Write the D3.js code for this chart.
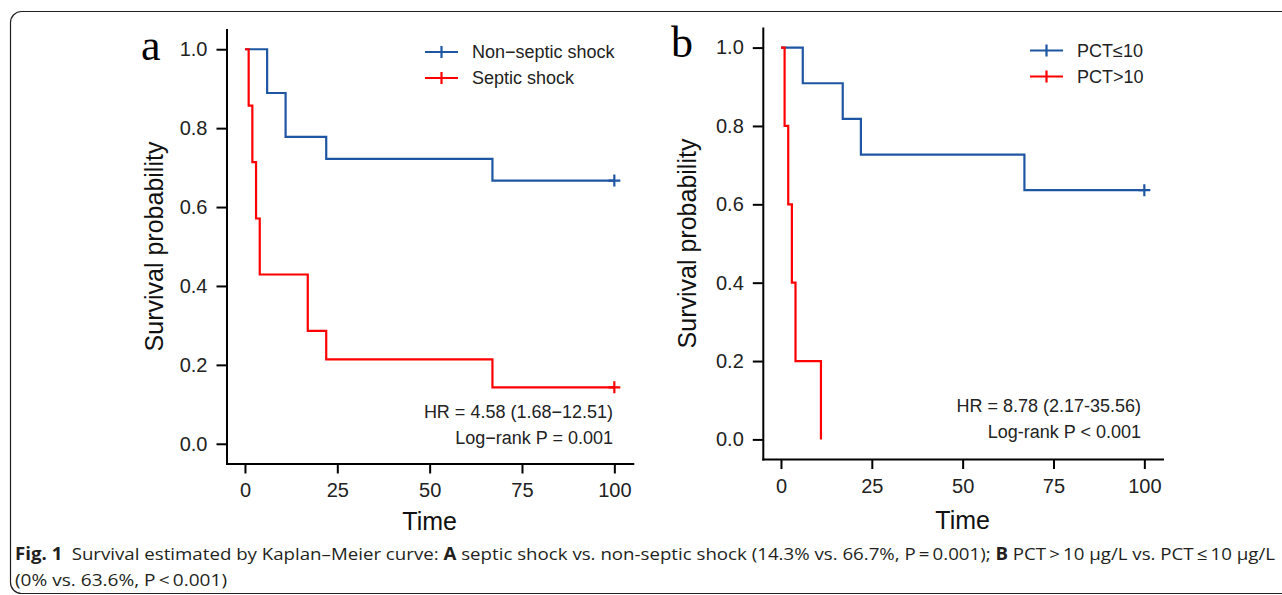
<!DOCTYPE html>
<html>
<head>
<meta charset="utf-8">
<script src="https://cdn.jsdelivr.net/npm/d3@7"></script>
<style>
  body { margin: 0; background: #fff; }
  svg { display: block; }
  .tick text { font-family: "Liberation Sans", Arial, sans-serif; font-size: 20px; fill: #222; }
  .tick line, .domain { stroke: #000; stroke-width: 2px; }
</style>
</head>
<body>
<div id="chart"></div>
<script>
// data
var timeTicks = [0, 25, 50, 75, 100];
var probTicks = [0, 0.2, 0.4, 0.6, 0.8, 1.0];

// panel a
var nonSepticTime = [0, 6, 11, 22, 67, 100];
var nonSepticSurv = [1, 0.889, 0.778, 0.722, 0.667, 0.667];
var septicTime = [0, 1, 2, 3, 4, 17, 22, 67, 100];
var septicSurv = [1, 0.857, 0.714, 0.571, 0.429, 0.286, 0.214, 0.143, 0.143];

// panel b
var pctLowTime = [0, 6, 17, 22, 67, 100];
var pctLowSurv = [1, 0.909, 0.818, 0.727, 0.636, 0.636];
var pctHighTime = [0, 1, 2, 3, 4, 11];
var pctHighSurv = [1, 0.8, 0.6, 0.4, 0.2, 0];

var svgWidth = 1282;
var svgHeight = 595;
var blue = "#1f56a3";
var red = "#ff0000";
var sans = "'Liberation Sans', Arial, sans-serif";

var svg = d3.select("#chart")
  .append("svg")
  .attr("width", svgWidth)
  .attr("height", svgHeight);

// figure frame (runs off the right and bottom edges)
svg.append("rect")
  .attr("x", 10.5)
  .attr("y", 11.5)
  .attr("width", 1320)
  .attr("height", 582)
  .attr("rx", 11)
  .attr("fill", "none")
  .attr("stroke", "#231f20")
  .attr("stroke-width", 1.2);

function drawPanel(p) {
  var x = d3.scaleLinear().domain([-5, 105]).range([p.left, p.right]);
  var y = d3.scaleLinear().domain([-0.05, 1.05]).range([p.bottom, p.top]);

  var g = svg.append("g");

  g.append("g")
    .attr("transform", `translate(0, ${p.bottom})`)
    .call(d3.axisBottom(x).tickValues(timeTicks).tickSize(10).tickSizeOuter(0).tickPadding(9))
    .call(a => a.selectAll("text").attr("dy", "0.74em"));

  g.append("g")
    .attr("transform", `translate(${p.left}, 0)`)
    .call(d3.axisLeft(y).tickValues(probTicks).tickFormat(d3.format(".1f"))
      .tickSize(10).tickSizeOuter(0).tickPadding(9));

  g.selectAll(".domain").attr("stroke-linecap", "square");

  // axis titles
  g.append("text")
    .attr("x", x(50))
    .attr("y", p.timeY)
    .attr("text-anchor", "middle")
    .attr("font-family", sans)
    .attr("font-size", 25)
    .attr("fill", "#111")
    .text("Time");

  g.append("text")
    .attr("transform", `translate(${p.left - p.yTitleOff}, ${y(0.5)}) rotate(-90)`)
    .attr("text-anchor", "middle")
    .attr("font-family", sans)
    .attr("font-size", 25)
    .attr("fill", "#111")
    .text("Survival probability");

  // panel letter
  g.append("text")
    .attr("x", p.letterX)
    .attr("y", p.letterY)
    .attr("font-family", "'Liberation Serif', 'Times New Roman', serif")
    .attr("font-size", 44)
    .attr("fill", "#000")
    .text(p.letter);

  var line = d3.line()
    .x(d => x(d[0]))
    .y(d => y(d[1]))
    .curve(d3.curveStepAfter);

  p.series.forEach(function(s) {
    var pts = d3.zip(s.time, s.surv);
    g.append("path")
      .datum(pts)
      .attr("d", line)
      .attr("fill", "none")
      .attr("stroke", s.color)
      .attr("stroke-width", 2.2);

    if (s.censor) {
      var last = pts[pts.length - 1];
      var cx = x(last[0]), cy = y(last[1]);
      g.append("path")
        .attr("d", `M${cx - 6},${cy}H${cx + 6}M${cx},${cy - 6}V${cy + 6}`)
        .attr("stroke", s.color)
        .attr("stroke-width", 2.2);
    }
  });

  // legend
  p.series.forEach(function(s, i) {
    var ly = p.legendY + i * 26;
    g.append("path")
      .attr("d", `M${p.legendX},${ly}H${p.legendX + 33}M${p.legendX + 16.5},${ly - 6}V${ly + 6}`)
      .attr("stroke", s.color)
      .attr("stroke-width", 2.2)
      .attr("fill", "none");
    g.append("text")
      .attr("x", p.legendX + 47)
      .attr("y", ly)
      .attr("dy", "0.35em")
      .attr("font-family", sans)
      .attr("font-size", 18)
      .attr("fill", "#222")
      .text(s.label);
  });

  // hazard ratio note
  p.note.forEach(function(t, i) {
    g.append("text")
      .attr("x", p.noteX)
      .attr("y", p.noteY + i * 25.5)
      .attr("text-anchor", "end")
      .attr("font-family", sans)
      .attr("font-size", 18)
      .attr("fill", "#222")
      .text(t);
  });
}

drawPanel({
  left: 226.5, right: 632.8, top: 29.5, bottom: 463.5,
  letter: "a", letterX: 141, letterY: 60,
  timeY: 530, yTitleOff: 64,
  legendX: 425, legendY: 52,
  noteX: 613, noteY: 418,
  note: ["HR = 4.58 (1.68\u221212.51)", "Log\u2212rank P = 0.001"],
  series: [
    { label: "Non\u2212septic shock", time: nonSepticTime, surv: nonSepticSurv, color: blue, censor: true },
    { label: "Septic shock", time: septicTime, surv: septicSurv, color: red, censor: true }
  ]
});

drawPanel({
  left: 762.8, right: 1162.5, top: 28, bottom: 459,
  letter: "b", letterX: 671, letterY: 57,
  timeY: 529, yTitleOff: 67,
  legendX: 1030, legendY: 50.5,
  noteX: 1141, noteY: 412,
  note: ["HR = 8.78 (2.17-35.56)", "Log-rank P < 0.001"],
  series: [
    { label: "PCT\u226410", time: pctLowTime, surv: pctLowSurv, color: blue, censor: true },
    { label: "PCT>10", time: pctHighTime, surv: pctHighSurv, color: red, censor: false }
  ]
});

// caption
var capFont = "'Open Sans', 'Noto Sans', sans-serif";
var cap1 = svg.append("text")
  .attr("x", 15)
  .attr("y", 560)
  .attr("font-family", capFont)
  .attr("font-size", 17)
  .attr("fill", "#231f20")
  .attr("textLength", 1260)
  .attr("lengthAdjust", "spacingAndGlyphs");
cap1.append("tspan").attr("font-weight", "bold").text("Fig. 1");
cap1.append("tspan").text("\u2002Survival estimated by Kaplan\u2013Meier curve: ");
cap1.append("tspan").attr("font-weight", "bold").text("A");
cap1.append("tspan").text(" septic shock vs. non-septic shock (14.3% vs. 66.7%, P\u2009=\u20090.001); ");
cap1.append("tspan").attr("font-weight", "bold").text("B");
cap1.append("tspan").text(" PCT\u2009>\u200910\u00a0\u03bcg/L vs. PCT\u2009\u2264\u200910\u00a0\u03bcg/L");

svg.append("text")
  .attr("x", 15)
  .attr("y", 586)
  .attr("font-family", capFont)
  .attr("font-size", 17)
  .attr("fill", "#231f20")
  .attr("textLength", 212)
  .attr("lengthAdjust", "spacingAndGlyphs")
  .text("(0% vs. 63.6%, P\u2009<\u20090.001)");
</script>
</body>
</html>
